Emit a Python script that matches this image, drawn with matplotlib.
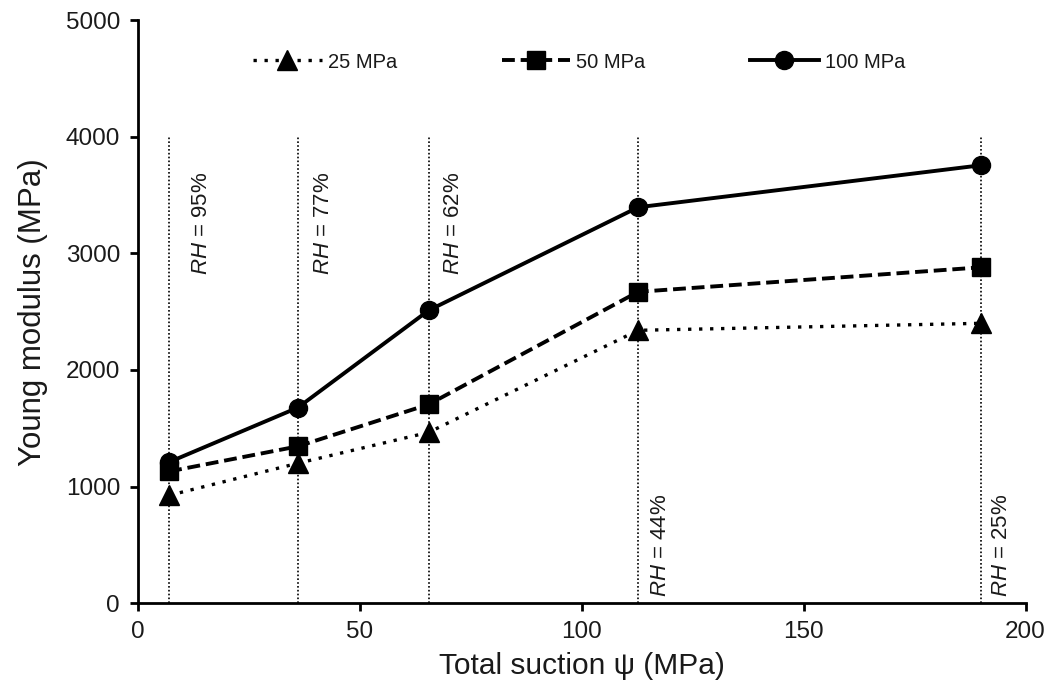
import matplotlib
matplotlib.use("Agg")
import matplotlib.pyplot as plt
from matplotlib import font_manager

# ---- data ----
suction = [7, 36, 65.5, 112.7, 190]            # MPa
rh_labels = ["95%", "77%", "62%", "44%", "25%"]
E_25 = [925, 1200, 1465, 2340, 2400]
E_50 = [1130, 1345, 1705, 2670, 2880]
E_100 = [1210, 1677, 2511, 3395, 3755]
series_names = ["25 MPa", "50 MPa", "100 MPa"]
x_ticks = [0, 50, 100, 150, 200]
y_ticks = [0, 1000, 2000, 3000, 4000, 5000]

plt.rcParams['font.family'] = ['Liberation Sans', 'DejaVu Sans']
plt.rcParams['mathtext.fontset'] = 'custom'
plt.rcParams['mathtext.it'] = 'Liberation Sans:italic'
plt.rcParams['mathtext.rm'] = 'Liberation Sans'

names = {f.name for f in font_manager.fontManager.ttflist}
legend_family = ['Liberation Sans Narrow', 'Liberation Sans'] if 'Liberation Sans Narrow' in names else ['Liberation Sans']

fig = plt.figure(figsize=(10.54, 6.91), dpi=100)
ax = fig.add_axes([0.131, 0.127, 0.842, 0.844])

txt_color = '#1a1a1a'

# vertical dotted reference lines
for xv in suction:
    ax.plot([xv, xv], [0, 4000], color='black', lw=1.2, dashes=(1, 1.3), zorder=1)

ax.plot(suction, E_25, color='black', lw=2.4, dashes=(1, 2.3), marker='^', ms=14,
        label=series_names[0], zorder=3)
ax.plot(suction, E_50, color='black', lw=2.8, dashes=(3.3, 1.5), marker='s', ms=13.5,
        label=series_names[1], zorder=3)
ax.plot(suction, E_100, color='black', lw=2.8, marker='o', ms=13,
        label=series_names[2], zorder=4)

# RH annotations
offsets = [15.5, 11, 10, 8.4, 7.3]
for i, (xv, lab) in enumerate(zip(suction, rh_labels)):
    s = r'$\it{RH}$ = ' + lab
    if i < 3:
        ax.annotate(s, xy=(xv, 3700), xytext=(offsets[i], 0), textcoords='offset points',
                    rotation=90, ha='left', va='top', fontsize=16, color=txt_color)
    else:
        ax.annotate(s, xy=(xv, 50), xytext=(offsets[i], 0), textcoords='offset points',
                    rotation=90, ha='left', va='bottom', fontsize=16, color=txt_color)

ax.set_xlim(0, 200)
ax.set_ylim(0, 5000)
ax.set_xticks(x_ticks)
ax.set_yticks(y_ticks)
for sp in ['top', 'right']:
    ax.spines[sp].set_visible(False)
for sp in ['left', 'bottom']:
    ax.spines[sp].set_linewidth(2.0)
ax.tick_params(direction='out', length=6, width=2.0, labelsize=17.5, pad=7,
               labelcolor=txt_color)

ax.set_xlabel('Total suction ψ (MPa)', fontsize=21.5, color=txt_color, labelpad=6)
ax.set_ylabel('Young modulus (MPa)', fontsize=22.5, color=txt_color, labelpad=13)

leg = ax.legend(loc='center', bbox_to_anchor=(0.497, 0.928), ncol=3, frameon=False,
                handlelength=3.4, handletextpad=0.3, columnspacing=5.2, numpoints=1,
                prop={'family': legend_family, 'size': 14.5})
for t in leg.get_texts():
    t.set_color(txt_color)

fig.savefig('out.png', dpi=100)
